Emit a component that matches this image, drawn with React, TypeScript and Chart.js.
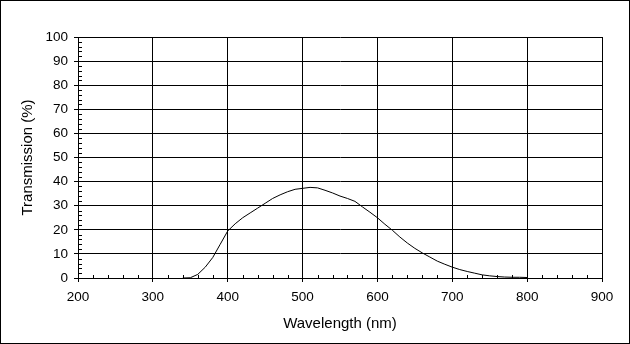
import React, { useEffect, useRef } from "react";
import { Chart, registerables } from "chart.js";

Chart.register(...registerables);

const wavelengths = [
  340, 350, 360, 370, 380, 390, 400, 410, 420, 430, 440, 450, 460, 470, 480, 490,
  500, 510, 520, 530, 540, 550, 560, 570, 580, 590, 600, 610, 620, 630, 640, 650,
  660, 670, 680, 690, 700, 710, 720, 730, 740, 750, 760, 770, 780, 790, 800,
];
const transmission = [
  0, 0.1, 1.5, 4.5, 8.5, 14, 19.5, 22.5, 25, 27, 29, 31, 33, 34.5, 35.8, 36.8,
  37.2, 37.6, 37.4, 36.4, 35.3, 34, 33, 31.8, 29.5, 27.3, 25, 22.3, 19.8, 17, 14.5, 12.3,
  10.4, 8.7, 7, 5.7, 4.5, 3.5, 2.7, 2, 1.3, 0.9, 0.6, 0.4, 0.3, 0.3, 0.2,
];
const xMin = 200;
const xMax = 900;
const xStep = 100;
const xMinorStep = 20;
const yMin = 0;
const yMax = 100;
const yStep = 10;
const yMinorStep = 2;
const xTitle = "Wavelength (nm)";
const yTitle = "Transmission (%)";

const FONT = "'Liberation Sans', Arial, sans-serif";

const extras = {
  id: "extras",
  afterDraw(chart: any) {
    const { ctx, chartArea, scales } = chart;
    const xs = scales.x;
    const ys = scales.y;
    ctx.save();
    ctx.strokeStyle = "#000";
    ctx.lineWidth = 1;
    ctx.beginPath();
    for (let v = xMin + xMinorStep; v < xMax; v += xMinorStep) {
      if (v % xStep === 0) continue;
      const px = Math.round(xs.getPixelForValue(v)) + 0.5;
      ctx.moveTo(px, chartArea.bottom);
      ctx.lineTo(px, chartArea.bottom - 3);
    }
    for (let v = yMin + yMinorStep; v < yMax; v += yMinorStep) {
      if (v % yStep === 0) continue;
      const py = Math.round(ys.getPixelForValue(v)) + 0.5;
      ctx.moveTo(chartArea.left, py);
      ctx.lineTo(chartArea.left + 4, py);
    }
    ctx.stroke();
    ctx.strokeRect(0.5, 0.5, chart.width - 1, chart.height - 1);
    ctx.restore();
  },
};

export default function App() {
  const ref = useRef<HTMLCanvasElement | null>(null);
  useEffect(() => {
    document.body.style.margin = "0";
    const canvas = ref.current!;
    const chart = new Chart(canvas, {
      type: "line",
      data: {
        datasets: [
          {
            data: wavelengths.map((w, i) => ({ x: w, y: transmission[i] })),
            borderColor: "#000",
            borderWidth: 1,
            pointRadius: 0,
            tension: 0,
            fill: false,
          },
        ],
      },
      options: {
        animation: false,
        responsive: false,
        devicePixelRatio: 1,
        layout: { padding: { top: 37, right: 28, left: 0, bottom: 0 } },
        plugins: { legend: { display: false }, tooltip: { enabled: false } },
        scales: {
          x: {
            type: "linear",
            min: xMin,
            max: xMax,
            ticks: { stepSize: xStep, color: "#000", font: { family: FONT, size: 13.5 }, padding: 7, maxRotation: 0 },
            grid: { color: "#000", lineWidth: 1, tickLength: 4, drawTicks: true },
            border: { color: "#000", width: 1 },
            title: { display: true, text: xTitle, color: "#000", font: { family: FONT, size: 15 }, padding: { top: 0, bottom: 11 } },
            afterFit(scale: any) {
              scale.height = 66;
            },
          },
          y: {
            min: yMin,
            max: yMax,
            ticks: { stepSize: yStep, color: "#000", font: { family: FONT, size: 13.5 }, padding: 6 },
            grid: { color: "#000", lineWidth: 1, tickLength: 4, drawTicks: true },
            border: { color: "#000", width: 1 },
            title: { display: true, text: yTitle, color: "#000", font: { family: FONT, size: 15 }, padding: { top: 19, bottom: 0 } },
            afterFit(scale: any) {
              scale.width = 78;
            },
          },
        },
      },
      plugins: [extras],
    });
    return () => chart.destroy();
  }, []);
  return (
    <div style={{ position: "absolute", left: 0, top: 0, width: 630, height: 344 }}>
      <canvas ref={ref} width={630} height={344} style={{ display: "block" }} />
    </div>
  );
}
